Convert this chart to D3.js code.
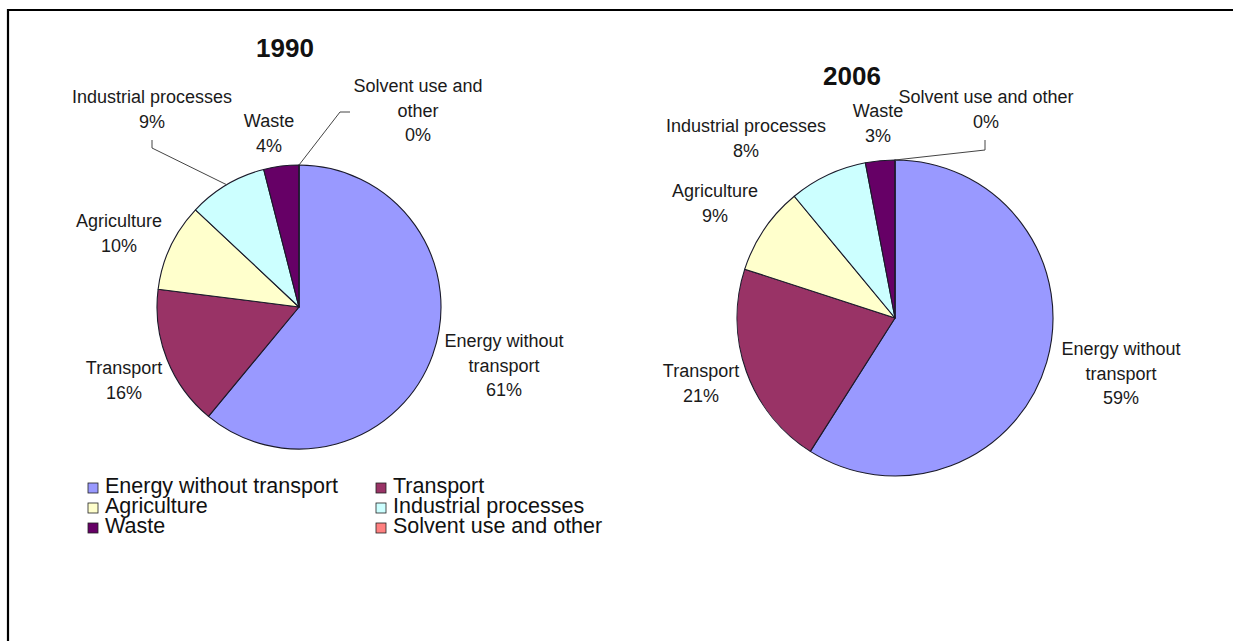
<!DOCTYPE html>
<html>
<head>
<meta charset="utf-8">
<script src="https://cdn.jsdelivr.net/npm/d3@7"></script>
<style>
  html, body { margin: 0; padding: 0; background: #fff; }
  svg { display: block; }
</style>
</head>
<body>
<svg id="chart" width="1233" height="641"></svg>
<script>
// Greenhouse gas emissions by sector, share of total
const categories = ["Energy without transport", "Transport", "Agriculture", "Industrial processes", "Waste", "Solvent use and other"];
const values1990 = [61, 16, 10, 9, 4, 0];
const values2006 = [59, 21, 9, 8, 3, 0];
const years = ["1990", "2006"];
const sliceColors = ["#9999FF", "#993366", "#FFFFCC", "#CCFFFF", "#660066", "#FF8080"];

// Label text as printed beside each slice (line breaks per label)
const labelLines1990 = [["Energy without", "transport"], ["Transport"], ["Agriculture"], ["Industrial processes"], ["Waste"], ["Solvent use and", "other"]];
const labelLines2006 = [["Energy without", "transport"], ["Transport"], ["Agriculture"], ["Industrial processes"], ["Waste"], ["Solvent use and other"]];

const svg = d3.select("#chart");
const FONT = "'Liberation Sans', Arial, sans-serif";

// frame
svg.append("line").attr("x1", 8).attr("y1", 10).attr("x2", 1233).attr("y2", 10)
  .attr("stroke", "#000").attr("stroke-width", 2.2);
svg.append("line").attr("x1", 8).attr("y1", 9).attr("x2", 8).attr("y2", 641)
  .attr("stroke", "#000").attr("stroke-width", 2.2);

const color = d3.scaleOrdinal().domain(categories).range(sliceColors);
const pie = d3.pie().sort(null).value(d => d.value).startAngle(0).endAngle(2 * Math.PI);

// Placement of each pie and its labels (x = label centre, y = first baseline)
const layouts = [
  {
    values: values1990, lines: labelLines1990,
    cx: 299, cy: 307, r: 142,
    title: { x: 285, y: 57 },
    labels: [
      { x: 504, y: 347 }, { x: 124, y: 374 }, { x: 119, y: 227 },
      { x: 152, y: 103 }, { x: 269, y: 127 }, { x: 418, y: 92 }
    ],
    leaders: { 3: [[152, 140], [152, 148]], 5: [[350, 112], [340, 112]] }
  },
  {
    values: values2006, lines: labelLines2006,
    cx: 895, cy: 318, r: 158,
    title: { x: 852, y: 85 },
    labels: [
      { x: 1121, y: 355 }, { x: 701, y: 377 }, { x: 715, y: 197 },
      { x: 746, y: 132 }, { x: 878, y: 117 }, { x: 986, y: 103 }
    ],
    leaders: { 5: [[985, 140], [985, 150]] }
  }
];

const lineGap = 24.5;

layouts.forEach((L, yi) => {
  const data = categories.map((c, i) => ({ name: c, value: L.values[i], idx: i }));
  const arcs = pie(data);
  const arc = d3.arc().innerRadius(0).outerRadius(L.r);

  const g = svg.append("g").attr("transform", `translate(${L.cx},${L.cy})`);
  g.selectAll("path.slice")
    .data(arcs)
    .join("path")
    .attr("class", "slice")
    .attr("d", arc)
    .attr("fill", d => color(d.data.name))
    .attr("stroke", "#1a1a2a")
    .attr("stroke-width", 1.1)
    .attr("stroke-linejoin", "round");

  // year title
  svg.append("text")
    .attr("x", L.title.x).attr("y", L.title.y)
    .attr("text-anchor", "middle")
    .attr("font-family", FONT).attr("font-weight", "bold").attr("font-size", 26)
    .attr("fill", "#111")
    .text(years[yi]);

  // leader lines from the slice edge to the label
  Object.keys(L.leaders).forEach(k => {
    const a = arcs[+k];
    const mid = (a.startAngle + a.endAngle) / 2;
    const edge = [L.cx + L.r * Math.sin(mid), L.cy - L.r * Math.cos(mid)];
    const pts = L.leaders[k].concat([edge]);
    svg.append("path")
      .attr("d", d3.line()(pts))
      .attr("fill", "none")
      .attr("stroke", "#444")
      .attr("stroke-width", 1);
  });

  // slice labels: name lines and percentage
  arcs.forEach((a, i) => {
    const pos = L.labels[i];
    const lines = L.lines[i].concat([d3.format(".0%")(a.data.value / 100)]);
    const t = svg.append("text")
      .attr("text-anchor", "middle")
      .attr("font-family", FONT).attr("font-size", 18)
      .attr("fill", "#1a1a1a");
    lines.forEach((s, j) => {
      t.append("tspan").attr("x", pos.x).attr("y", pos.y + j * lineGap).text(s);
    });
  });
});

// legend, two columns of three entries
const legendCols = [88, 376];
const legendRows = [493, 513, 533];
const legend = svg.append("g");
categories.forEach((c, i) => {
  const x = legendCols[i % 2];
  const y = legendRows[Math.floor(i / 2)];
  legend.append("rect")
    .attr("x", x).attr("y", y - 10).attr("width", 10).attr("height", 10)
    .attr("fill", color(c)).attr("stroke", "#222").attr("stroke-width", 0.8);
  legend.append("text")
    .attr("x", x + 17).attr("y", y)
    .attr("font-family", FONT).attr("font-size", 21.5)
    .attr("fill", "#111")
    .text(c);
});
</script>
</body>
</html>
